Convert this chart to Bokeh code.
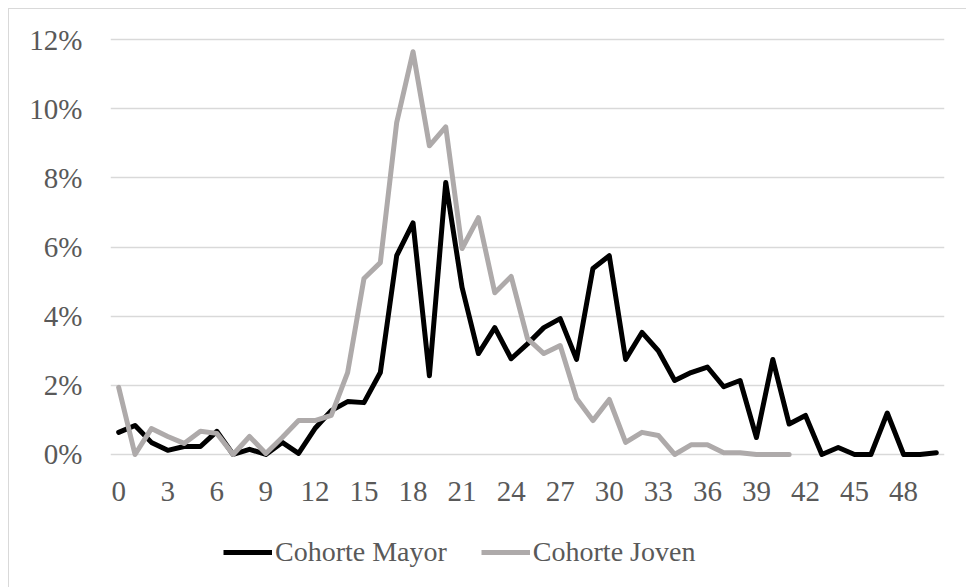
from bokeh.plotting import figure
from bokeh.layouts import column
from bokeh.models import Legend, LegendItem, FixedTicker, PrintfTickFormatter, Range1d
from bokeh.embed import file_html
from bokeh.resources import INLINE

ages = list(range(0, 51))
mayor = [0.64, 0.84, 0.35, 0.12, 0.23, 0.23, 0.67, 0.0, 0.15, 0.0,
         0.35, 0.03, 0.75, 1.27, 1.53, 1.5, 2.37, 5.75, 6.7, 2.28,
         7.87, 4.83, 2.92, 3.67, 2.77, 3.2, 3.67, 3.93, 2.75, 5.38,
         5.75, 2.75, 3.53, 3.0, 2.14, 2.37, 2.53, 1.96, 2.14, 0.49,
         2.75, 0.88, 1.13, 0.0, 0.2, 0.0, 0.0, 1.2, 0.0, 0.0, 0.05]
joven = [1.94, 0.0, 0.75, 0.52, 0.32, 0.67, 0.61, 0.0, 0.52, 0.03,
         0.49, 0.98, 0.98, 1.13, 2.37, 5.09, 5.55, 9.6, 11.65, 8.93,
         9.48, 5.96, 6.85, 4.68, 5.15, 3.35, 2.92, 3.15, 1.62, 0.98,
         1.59, 0.35, 0.64, 0.55, 0.0, 0.28, 0.28, 0.05, 0.05, 0.0,
         0.0, 0.0]
x_ticks = list(range(0, 49, 3))
y_ticks = [0, 2, 4, 6, 8, 10, 12]
series_names = ["Cohorte Mayor", "Cohorte Joven"]
colors = ["#000000", "#AEAAAA"]

FONT = "Liberation Serif"
FSIZE = "29px"
TXT = "#595959"
GRID = "#D9D9D9"

# main chart
p = figure(width=958, height=511, output_backend="svg", toolbar_location=None,
           x_range=Range1d(-0.5, 50.5), y_range=Range1d(-0.29, 12.15))
p.min_border_left = 101
p.min_border_right = 23
p.min_border_top = 25
p.min_border_bottom = 56
p.outline_line_color = None
p.background_fill_color = "white"
p.border_fill_color = "white"

p.xgrid.grid_line_color = None
p.ygrid.grid_line_color = GRID
p.ygrid.grid_line_width = 1.5
p.ygrid.ticker = FixedTicker(ticks=y_ticks)

p.xaxis.ticker = FixedTicker(ticks=x_ticks)
p.yaxis.ticker = FixedTicker(ticks=y_ticks)
p.yaxis.formatter = PrintfTickFormatter(format="%d%%")
for ax in (p.xaxis, p.yaxis):
    ax.axis_line_color = None
    ax.major_tick_line_color = None
    ax.minor_tick_line_color = None
    ax.major_tick_out = 0
    ax.major_tick_in = 0
    ax.minor_tick_out = 0
    ax.minor_tick_in = 0
    ax.major_label_text_font = FONT
    ax.major_label_text_font_size = FSIZE
    ax.major_label_text_color = TXT
p.xaxis.major_label_standoff = 17
p.yaxis.major_label_standoff = 28

r1 = p.line(ages, mayor, line_color=colors[0], line_width=5,
            line_join="round", line_cap="round")
r2 = p.line(ages[:len(joven)], joven, line_color=colors[1], line_width=5,
            line_join="round", line_cap="round")

# legend strip below the chart (its own copies of the series lie outside its view)
p2 = figure(width=958, height=68, output_backend="svg", toolbar_location=None,
            x_range=Range1d(1000, 1001), y_range=Range1d(1000, 1001))
p2.min_border_left = 0
p2.min_border_right = 0
p2.min_border_top = 0
p2.min_border_bottom = 0
p2.outline_line_color = None
p2.axis.visible = False
p2.grid.visible = False
p2.background_fill_color = "white"
p2.border_fill_color = "white"
l1 = p2.line(ages, mayor, line_color=colors[0], line_width=5, line_cap="butt")
l2 = p2.line(ages[:len(joven)], joven, line_color=colors[1], line_width=5,
             line_cap="butt")

legend = Legend(items=[LegendItem(label=series_names[0], renderers=[l1]),
                       LegendItem(label=series_names[1], renderers=[l2])],
                orientation="horizontal", location=(113, 19),
                glyph_width=49, glyph_height=34, label_height=34,
                label_standoff=3, spacing=34, padding=0, margin=0,
                border_line_color=None, background_fill_alpha=0,
                label_text_font=FONT, label_text_font_size="28px",
                label_text_color=TXT)
p2.add_layout(legend, "center")

layout = column(p, p2, spacing=0)
layout.styles = {"margin": "9px 0 0 9px", "box-shadow": "-1px -1px 0 0 #D9D9D9"}

open("out.html", "w").write(file_html(layout, INLINE))
